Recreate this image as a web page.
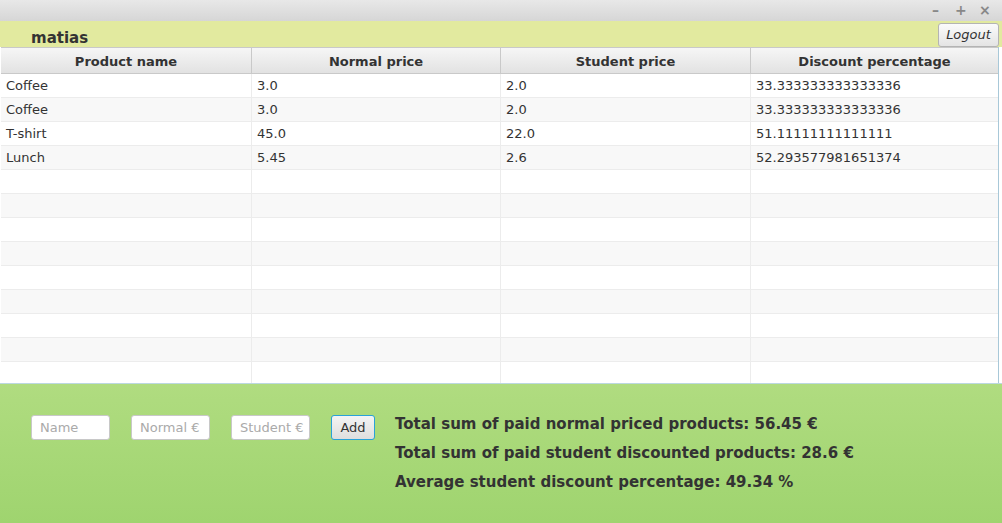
<!DOCTYPE html>
<html lang="en">
<head>
<meta charset="UTF-8" />
<title>Student prices</title>
<script src="https://cdn.jsdelivr.net/npm/chart.js"></script>
<style>
  html, body { margin: 0; padding: 0; }
  body { width: 1002px; height: 523px; position: relative; overflow: hidden; background: #fff;
         font-family: "DejaVu Sans", sans-serif; color: #333; }
  .titlebar { position: absolute; left: 0; top: 0; width: 1002px; height: 21px;
              background: linear-gradient(#e8e8e8, #d6d6d6); }
  .titlebar span { position: absolute; top: 2px; font-size: 14px; color: #888; font-weight: bold; }
  .userbar { position: absolute; left: 0; top: 21px; width: 1002px; height: 26px; background: #e2ea9f; }
  .userbar .name { position: absolute; left: 31px; top: 8px; font-size: 15px; font-weight: bold; color: #333; }
  .logout { position: absolute; left: 938px; top: 2px; width: 61px; height: 24px; box-sizing: border-box;
            border: 1px solid #b4b4b4; border-radius: 3px; background: linear-gradient(#fbfbfb, #e4e4e4);
            font-style: italic; font-size: 13px; text-align: center; line-height: 22px; color: #333; }
  #grid { position: absolute; left: 1px; top: 47px; width: 998px; height: 336px; overflow: hidden;
          border-right: 1px solid #a8c8d8; box-sizing: border-box; }
  .hcell { position: absolute; top: 0; height: 27px; box-sizing: border-box; border: 1px solid #c9c9c9;
           border-left: none; background: linear-gradient(#f6f6f6, #e2e2e2);
           font-weight: bold; font-size: 13px; text-align: center; line-height: 27px; }
  .row { position: absolute; left: 0; width: 998px; height: 24px; box-sizing: border-box;
         border-bottom: 1px solid #ececec; }
  .cell { position: absolute; top: 0; height: 23px; box-sizing: border-box; border-right: 1px solid #ececec;
          font-size: 13px; line-height: 23px; padding-left: 5px; }
  .panel { position: absolute; left: 0; top: 383px; width: 1002px; height: 140px;
           background: linear-gradient(#b0dc80, #9fd46f); border-top: 1px solid #bcd8e0; box-sizing: border-box; }
  .field { position: absolute; top: 31px; width: 79px; height: 25px; box-sizing: border-box; background: #fff;
           border: 1px solid #c8c8c8; border-radius: 3px; font-size: 13px; color: #aaa; padding-left: 8px;
           line-height: 23px; }
  .add { position: absolute; left: 331px; top: 31px; width: 44px; height: 25px; box-sizing: border-box;
         border: 1px solid #2aa2d8; border-radius: 3px; background: linear-gradient(#f4f4f4, #dedede);
         font-size: 13px; text-align: center; line-height: 23px; color: #333; }
  .stat { position: absolute; left: 395px; font-size: 15px; font-weight: bold; color: #333; }
</style>
</head>
<body>
  <div class="titlebar"><span style="left:932px">&ndash;</span><span style="left:955px">+</span><span style="left:979px">&times;</span></div>
  <div class="userbar"><div class="name">matias</div><div class="logout">Logout</div></div>
  <div id="grid"></div>
  <div class="panel">
    <div class="field" style="left:31px">Name</div>
    <div class="field" style="left:131px">Normal &euro;</div>
    <div class="field" style="left:231px">Student &euro;</div>
    <div class="add">Add</div>
    <div class="stat" id="s1" style="top:31px"></div>
    <div class="stat" id="s2" style="top:60px"></div>
    <div class="stat" id="s3" style="top:89px"></div>
  </div>

<script>
  // table data
  const columns = ['Product name', 'Normal price', 'Student price', 'Discount percentage'];
  const products = ['Coffee', 'Coffee', 'T-shirt', 'Lunch'];
  const normalPrices = ['3.0', '3.0', '45.0', '5.45'];
  const studentPrices = ['2.0', '2.0', '22.0', '2.6'];
  const discounts = ['33.333333333333336', '33.333333333333336', '51.11111111111111', '52.293577981651374'];
  const totalNormal = '56.45';
  const totalStudent = '28.6';
  const avgDiscount = '49.34';

  const colLeft = [0, 251, 500, 750];
  const colWidth = [251, 249, 250, 248];
  const grid = document.getElementById('grid');

  columns.forEach((c, i) => {
    const h = document.createElement('div');
    h.className = 'hcell';
    h.style.left = colLeft[i] + 'px';
    h.style.width = colWidth[i] + 'px';
    h.textContent = c;
    grid.appendChild(h);
  });

  for (let r = 0; r < 14; r++) {
    const row = document.createElement('div');
    row.className = 'row';
    row.style.top = (27 + r * 24) + 'px';
    row.style.background = r % 2 ? '#f8f8f8' : '#fff';
    const vals = r < products.length ? [products[r], normalPrices[r], studentPrices[r], discounts[r]] : ['', '', '', ''];
    vals.forEach((v, i) => {
      const c = document.createElement('div');
      c.className = 'cell';
      c.style.left = colLeft[i] + 'px';
      c.style.width = colWidth[i] + 'px';
      c.textContent = v;
      row.appendChild(c);
    });
    grid.appendChild(row);
  }

  document.getElementById('s1').textContent = 'Total sum of paid normal priced products: ' + totalNormal + ' \u20ac';
  document.getElementById('s2').textContent = 'Total sum of paid student discounted products: ' + totalStudent + ' \u20ac';
  document.getElementById('s3').textContent = 'Average student discount percentage: ' + avgDiscount + ' %';
</script>
</body>
</html>
